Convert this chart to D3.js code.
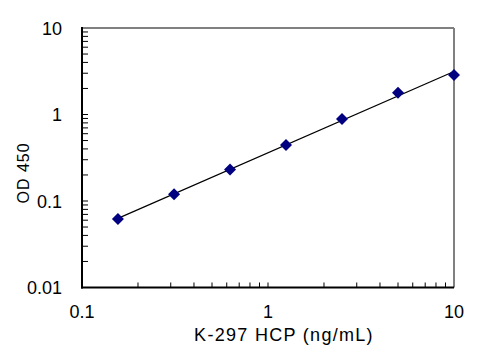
<!DOCTYPE html>
<html>
<head>
<meta charset="utf-8">
<script src="https://cdn.jsdelivr.net/npm/d3@7"></script>
<style>
  body { margin: 0; background: #fff; }
  svg { font-family: "Liberation Sans", Arial, sans-serif; }
</style>
</head>
<body>
<svg width="500" height="360"></svg>
<script>
// standard curve values
const conc = [0.156, 0.3125, 0.625, 1.25, 2.5, 5, 10]
const od = [0.062, 0.12, 0.232, 0.444, 0.887, 1.79, 2.86]
const xTicks = [0.1, 1, 10]
const yTicks = [0.01, 0.1, 1, 10]

const svg = d3.select('svg')
const margin = { left: 82, right: 46, top: 28, bottom: 72.5 }
const width = 500 - margin.left - margin.right
const height = 360 - margin.top - margin.bottom

const x = d3.scaleLog().domain([0.1, 10]).range([0, width])
const y = d3.scaleLog().domain([0.01, 10]).range([height, 0])

const g = svg.append('g')
    .attr('transform', `translate(${margin.left},${margin.top})`)

// minor ticks (all 1..9 per decade), drawn inside the plot
const minorX = d3.range(-1, 1).flatMap(e => d3.range(2, 10).map(m => m * Math.pow(10, e)))
const minorY = d3.range(-2, 1).flatMap(e => d3.range(2, 10).map(m => m * Math.pow(10, e)))

g.append('g').selectAll('line')
  .data(minorX.concat([1]))
  .enter().append('line')
    .attr('x1', d => x(d)).attr('x2', d => x(d))
    .attr('y1', height).attr('y2', height - 5)
    .attr('stroke', '#000').attr('stroke-width', 1)

g.append('g').selectAll('line')
  .data(minorY.concat([0.1, 1, 10]))
  .enter().append('line')
    .attr('x1', 0).attr('x2', 6)
    .attr('y1', d => y(d)).attr('y2', d => y(d))
    .attr('stroke', '#000').attr('stroke-width', 1)

// frame: top & right grey, left & bottom black
g.append('line').attr('x1', 0).attr('x2', width).attr('y1', 0).attr('y2', 0)
    .attr('stroke', '#808080').attr('stroke-width', 2)
g.append('line').attr('x1', width).attr('x2', width).attr('y1', 0).attr('y2', height)
    .attr('stroke', '#808080').attr('stroke-width', 2)
g.append('line').attr('x1', 0).attr('x2', 0).attr('y1', -1).attr('y2', height + 1)
    .attr('stroke', '#000').attr('stroke-width', 2)
g.append('line').attr('x1', -1).attr('x2', width).attr('y1', height).attr('y2', height)
    .attr('stroke', '#000').attr('stroke-width', 2)

// tick labels
g.append('g').selectAll('text')
  .data(xTicks)
  .enter().append('text')
    .attr('x', d => x(d))
    .attr('y', height + 30)
    .attr('text-anchor', 'middle')
    .attr('font-size', 18)
    .text(d => d3.format('~g')(d))

g.append('g').selectAll('text')
  .data(yTicks)
  .enter().append('text')
    .attr('x', -20)
    .attr('y', d => y(d) + 6.5)
    .attr('text-anchor', 'end')
    .attr('font-size', 18)
    .text(d => d3.format('~g')(d))

// axis titles
svg.append('text')
    .attr('x', 284).attr('y', 341)
    .attr('text-anchor', 'middle')
    .attr('font-size', 18)
    .attr('letter-spacing', 1.3)
    .text('K-297 HCP (ng/mL)')

svg.append('text')
    .attr('transform', 'translate(29,173) rotate(-90)')
    .attr('text-anchor', 'middle')
    .attr('font-size', 16)
    .attr('letter-spacing', 1)
    .text('OD 450')

// power trendline fitted in log space
const lx = conc.map(Math.log10), ly = od.map(Math.log10)
const mx = d3.mean(lx), my = d3.mean(ly)
const slope = d3.sum(lx, (v, i) => (v - mx) * (ly[i] - my)) / d3.sum(lx, v => (v - mx) * (v - mx))
const icpt = my - slope * mx
const fit = d3.extent(conc).map(c => [c, Math.pow(10, icpt + slope * Math.log10(c))])

g.append('path')
    .datum(fit)
    .attr('fill', 'none')
    .attr('stroke', '#000')
    .attr('stroke-width', 1.2)
    .attr('d', d3.line().x(d => x(d[0])).y(d => y(d[1])))

// markers
g.append('g').selectAll('path')
  .data(conc)
  .enter().append('path')
    .attr('transform', (d, i) => `translate(${x(d)},${y(od[i])})`)
    .attr('d', 'M0,-6L6,0L0,6L-6,0Z')
    .attr('fill', '#000080')
</script>
</body>
</html>
